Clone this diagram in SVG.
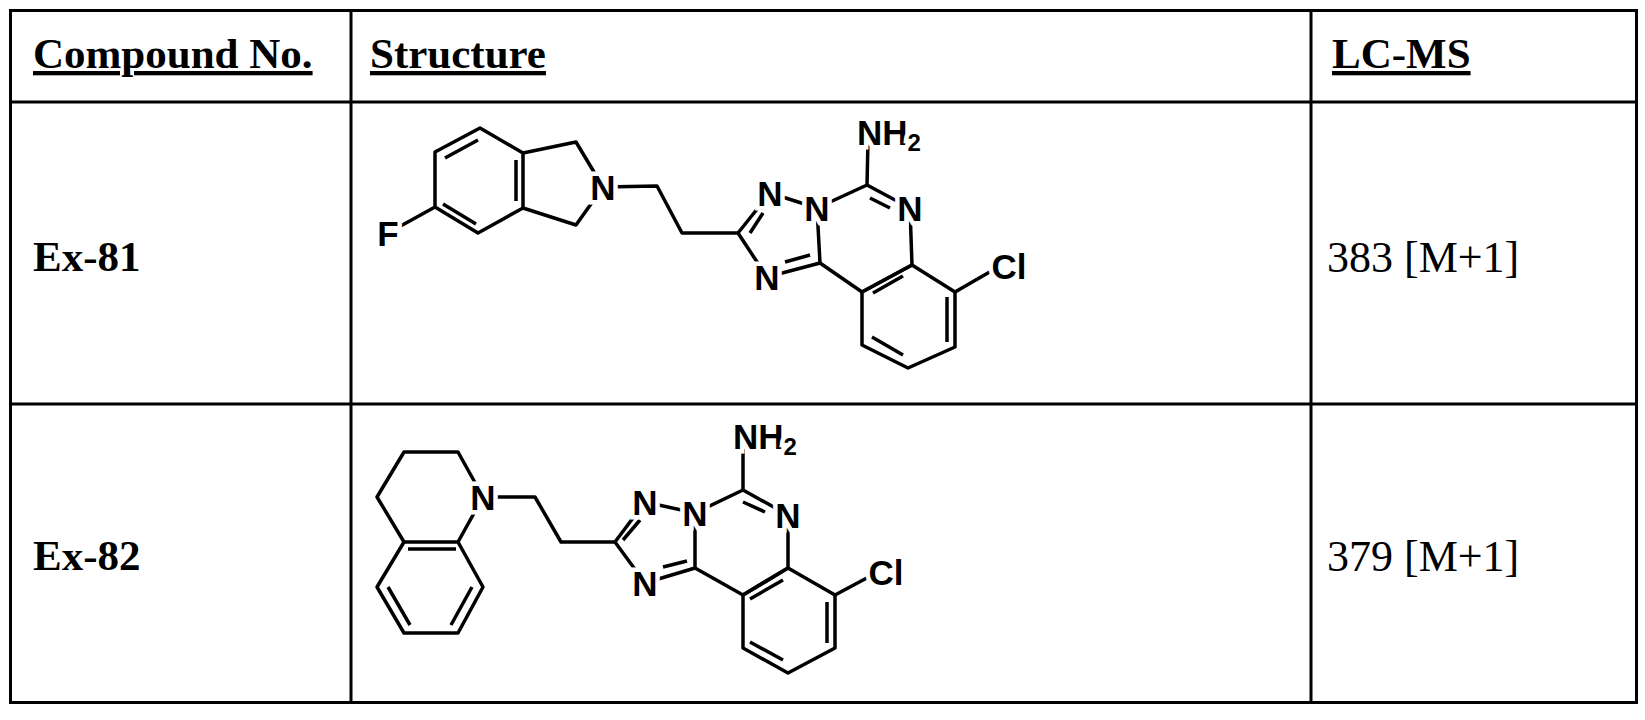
<svg xmlns="http://www.w3.org/2000/svg" width="1645" height="720" viewBox="0 0 1645 720">
<style>
.g{stroke:#000;stroke-width:3;fill:none}
.b{stroke:#000;stroke-width:3.5;fill:none;stroke-linejoin:round}
.h{font-family:"Liberation Serif",serif;font-weight:bold;font-size:43px;text-decoration:underline}
.c{font-family:"Liberation Serif",serif;font-weight:bold;font-size:43px}
.m{font-family:"Liberation Serif",serif;font-size:44px}
.a{font-family:"Liberation Sans",Arial,sans-serif;font-weight:bold;font-size:35px;text-anchor:middle;dominant-baseline:central;stroke:#fff;stroke-width:9;paint-order:stroke;fill:#000}
.s{font-size:24px}
</style>
<rect width="1645" height="720" fill="#fff"/>
<g id="table" class="g">
<rect x="10.5" y="10.5" width="1626" height="692"/>
<line x1="351" y1="10" x2="351" y2="703"/>
<line x1="1311" y1="10" x2="1311" y2="703"/>
<line x1="10" y1="102" x2="1637" y2="102"/>
<line x1="10" y1="404" x2="1637" y2="404"/>
</g>
<g id="headers">
<text class="h" x="33" y="68">Compound No.</text>
<text class="h" x="370" y="68">Structure</text>
<text class="h" x="1332" y="68">LC-MS</text>
</g>
<g id="row1">
<text class="c" x="33" y="271">Ex-81</text>
<text class="m" x="1327" y="272">383 [M+1]</text>
</g>
<g id="row2">
<text class="c" x="33" y="570">Ex-82</text>
<text class="m" x="1327" y="571">379 [M+1]</text>
</g>
<g id="mol81">
<path class="b" d="M480,128 L523,153 L523,208 L478,233 L435,207 L435,152 Z"/>
<path class="b" d="M445,158 L478,140 M516,160 L516,201 M476,224 L443,204"/>
<path class="b" d="M435,207 L388,233"/>
<path class="b" d="M523,153 L576,142 L603,187 L576,225 L523,208"/>
<path class="b" d="M603,187 L657,186 L682,233 L738,233"/>
<path class="b" d="M738,233 L770,193 L817,208 L820,263 L767,277 Z"/>
<path class="b" d="M750,233 L763,213 M785,262 L810,255"/>
<path class="b" d="M817,208 L867,185 L910,208 L912,265 L862,292 L820,263"/>
<path class="b" d="M870,198 L890,208 M867,185 L868,140"/>
<path class="b" d="M862,292 L912,265 L955,292 L955,347 L908,368 L862,345 Z"/>
<path class="b" d="M873,293 L903,276 M947,297 L947,342 M872,337 L903,355"/>
<path class="b" d="M955,292 L1000,266"/>
<text class="a" x="388" y="233">F</text>
<text class="a" x="603" y="187">N</text>
<text class="a" x="770" y="193">N</text>
<text class="a" x="817" y="208">N</text>
<text class="a" x="767" y="277">N</text>
<text class="a" x="910" y="208">N</text>
<text class="a" x="889" y="132">NH<tspan class="s" dy="10">2</tspan></text>
<text class="a" x="1009" y="266">Cl</text>
</g>
<g id="mol82">
<path class="b" d="M404,542 L377,497 L404,452 L458,452 L483,497 L458,542"/>
<path class="b" d="M404,542 L458,542 L483,587 L458,633 L404,633 L377,587 Z"/>
<path class="b" d="M408,549 L456,549 M388,587 L410,625 M472,587 L451,625"/>
<path class="b" d="M483,497 L535,497 L561,542 L615,542"/>
<path class="b" d="M615,542 L645,502 L695,513 L695,568 L645,583 Z"/>
<path class="b" d="M623,540 L640,520 M663,567 L687,561"/>
<path class="b" d="M695,513 L743,490 L788,515 L788,568 L743,595 L695,568"/>
<path class="b" d="M743,502 L765,512 M743,490 L743,445"/>
<path class="b" d="M743,595 L788,568 L835,595 L835,648 L788,673 L743,648 Z"/>
<path class="b" d="M750,599 L783,580 M827,602 L827,643 M750,642 L783,660"/>
<path class="b" d="M835,595 L878,572"/>
<text class="a" x="483" y="497">N</text>
<text class="a" x="645" y="502">N</text>
<text class="a" x="695" y="513">N</text>
<text class="a" x="645" y="583">N</text>
<text class="a" x="788" y="515">N</text>
<text class="a" x="765" y="436">NH<tspan class="s" dy="10">2</tspan></text>
<text class="a" x="886" y="572">Cl</text>
</g>
</svg>
